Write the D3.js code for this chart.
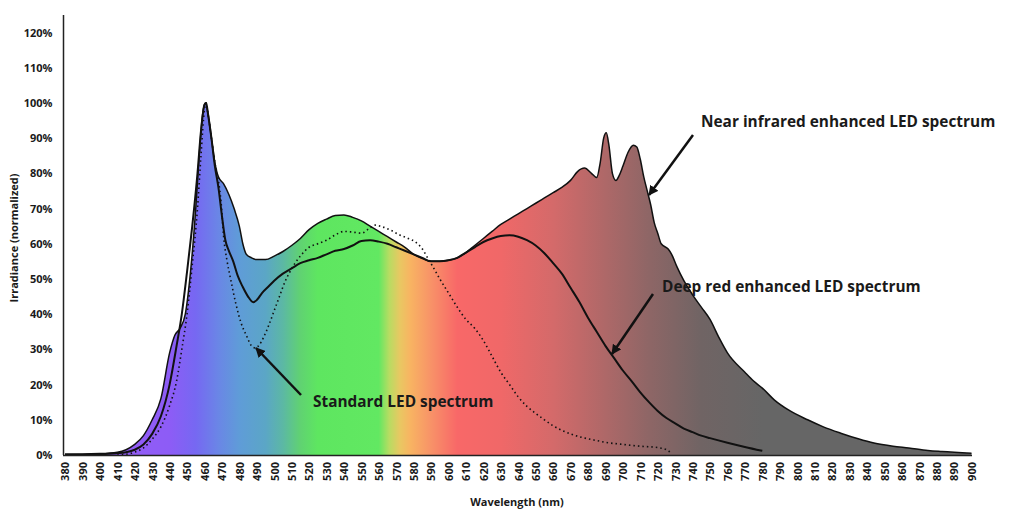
<!DOCTYPE html>
<html>
<head>
<meta charset="utf-8">
<script src="https://cdn.jsdelivr.net/npm/d3@7"></script>
<style>
  html, body { margin: 0; padding: 0; background: #fff; }
  svg { display: block; font-family: "Open Sans", "DejaVu Sans", sans-serif; }
</style>
</head>
<body>
<svg id="chart" width="1024" height="519"></svg>
<script>
// ---------- DATA ----------
const xTicks = d3.range(380, 901, 10);
const yTicks = [0, 10, 20, 30, 40, 50, 60, 70, 80, 90, 100, 110, 120];

// Near infrared enhanced LED spectrum (filled)
const nirWl  = [380,390,400,410,415,420,425,430,435,440,443,446,449,452,455,457,459,460.5,462,464,466,468,471,474,477,480,482,484,487,490,495,500,505,510,515,520,525,530,535,540,545,550,555,560,565,570,575,580,585,590,595,600,605,610,615,620,625,630,635,640,645,650,655,660,665,670,674,678,682,685,687,689,690.5,692,694,696,698,700,703,706,708,710,712,714,716,718,720,722,726,728,731,735,740,745,750,755,760,770,775,780,787,795,806,815,825,835,844,855,864,875,883,900];
const nirVal = [0.3,0.3,0.4,0.8,1.5,3,5.5,10,16,29,34,36,40,52,70,85,97,100,97,90,83,79,77,74,70,65,60,57,56,55.5,55.5,56.5,57.8,59.5,61.5,64,65.8,67,68,68.2,67.5,66.5,65,63.5,62,60.5,59,57,55.8,55,55,55.3,56,57.5,59.5,61.5,63.5,65.5,67,68.5,70,71.5,73,74.5,76,78,80.5,81.5,80,78.8,83,90,91.5,88,80,78,79.5,82,86,88,87.5,84,79,75,71,66,63,60,58.5,57,53.5,49.5,45.5,42,38.5,33.5,29,23.5,21,19,15.6,12.8,10,8,6.2,4.6,3.4,2.5,2,1.3,1,0.5];

// Deep red enhanced LED spectrum (solid line)
const deepWl  = [380,400,410,415,420,425,430,435,440,444,447,450,453,456,458,460,461,462,464,466,468,470,472,474,476.5,479,482,485,488,490,493,497,500,505,510,515,520,525,530,535,540,545,550,555,560,565,570,575,580,585,590,595,600,605,610,615,620,625,630,635,640,645,650,655,660,665,670,675,680,685,690,695,700,705,710,715,720,725,730,735,740,745,750,760,770,780];
const deepVal = [0,0.2,0.5,0.8,1.5,3,6,11,20,31,40,52,65,80,92,99.5,100,97,90,82,76,68,61,58,55,51,47.7,45,43.4,44,46,48,49.5,51.5,53,54.5,55.3,56,57,58,58.5,59.5,60.8,61,60.6,60,59,58,57,56,55,55,55.3,56,57.5,59,60.5,61.5,62.2,62.4,62,61,59.5,57.3,54.5,51.5,47.5,43.5,39,35,31,27.5,24,21,17.8,15,12.5,10.5,9,7.5,6.5,5.5,4.8,3.5,2.3,1.2];

// Standard LED spectrum (dotted line)
const stdWl  = [410,415,420,425,430,435,440,444,447,450,453,456,458,460,461,462,464,466,468,469.5,471,473,475,478,481,484,487,489,491,494,497,500,503,506,509,512,515,520,525,530,535,540,545,550,555,558,562,567,572,577,581,585,588,591,595,600,605,610,615,620,625,630,635,640,645,650,655,660,665,670,675,680,685,690,700,710,720,725,728];
const stdVal = [0,0.2,0.8,2,4.5,8,14,21,30,40,54,70,85,98,100,97,90,83,78,72,62,55,50,43,37.5,34,31,30.4,31,33.5,37,41,45,49,52,54.5,56.5,59,60,61,62.5,63.5,63.3,63,64.5,65.3,64.8,63.8,62.5,61.5,60.5,58.5,56,53.5,50,46,42,38.5,36,32.5,28,23.5,20,16.5,13.8,11.8,10,8.3,7,6,5.2,4.6,4.1,3.6,3,2.5,2.1,1.5,0.5];

// spectrum gradient (wavelength -> colour)
const gradNm     = [380,440,455,468,480,495,505,515,525,560,566,572,578,590,605,630,660,690,715,745,780,900];
const gradColors = ["#9b5cf6","#8d5cf6","#7668f2","#6a86e6","#5f9cd8","#5ba6c6","#5cb8a4","#60d272","#5ee660","#62e862","#b8dc62","#e8c862","#f8b462","#f89268","#f86868","#f06868","#d46a6a","#ae6868","#8e6666","#706464","#666666","#666666"];

// annotations
const labels = [
  {text: "Near infrared enhanced LED spectrum", tx: 701, ty: 127, ax1: 693, ay1: 135, ax2: 649, ay2: 195},
  {text: "Deep red enhanced LED spectrum",      tx: 662, ty: 292, ax1: 653, ay1: 294, ax2: 612, ay2: 354},
  {text: "Standard LED spectrum",               tx: 313, ty: 407, ax1: 301, ay1: 395, ax2: 256, ay2: 348}
];

// ---------- CHART ----------
const svg = d3.select("#chart");
const x = d3.scaleLinear().domain([380, 900]).range([65, 971.5]);
const y = d3.scaleLinear().domain([0, 120]).range([455, 32.5]);

const defs = svg.append("defs");
const grad = defs.append("linearGradient")
  .attr("id", "spec").attr("gradientUnits", "userSpaceOnUse")
  .attr("x1", x(380)).attr("x2", x(900)).attr("y1", 0).attr("y2", 0);
gradNm.forEach((nm, i) => {
  grad.append("stop").attr("offset", (nm - 380) / 520).attr("stop-color", gradColors[i]);
});

defs.append("marker").attr("id", "arrow")
  .attr("viewBox", "0 0 10 10").attr("refX", 9).attr("refY", 5)
  .attr("markerWidth", 4).attr("markerHeight", 4).attr("orient", "auto")
  .append("path").attr("d", "M0,0 L10,5 L0,10 z").attr("fill", "#111");

const zip = (a, b) => a.map((v, i) => [v, b[i]]);
const nir = zip(nirWl, nirVal), deep = zip(deepWl, deepVal), std = zip(stdWl, stdVal);

const area = d3.area().x(d => x(d[0])).y0(y(0)).y1(d => y(d[1])).curve(d3.curveMonotoneX);
const line = d3.line().x(d => x(d[0])).y(d => y(d[1])).curve(d3.curveMonotoneX);

svg.append("path").datum(nir).attr("d", area).attr("fill", "url(#spec)");
svg.append("path").datum(nir).attr("d", line).attr("fill", "none")
  .attr("stroke", "#111").attr("stroke-width", 1.5);
svg.append("path").datum(deep).attr("d", line).attr("fill", "none")
  .attr("stroke", "#111").attr("stroke-width", 2);
svg.append("path").datum(std).attr("d", line).attr("fill", "none")
  .attr("stroke", "#111").attr("stroke-width", 1.6).attr("stroke-dasharray", "1.5 3");

// axes
const xAxis = d3.axisBottom(x).tickValues(xTicks).tickSize(0).tickFormat(d3.format("d"));
const gx = svg.append("g").attr("transform", "translate(0,455)").call(xAxis);
gx.select(".domain").attr("d", `M63,0.5H972`).attr("stroke", "#222").attr("stroke-width", 1.5);
gx.selectAll("text")
  .attr("transform", "rotate(-90)")
  .attr("x", -7).attr("y", 0).attr("dy", "0.35em")
  .attr("text-anchor", "end")
  .attr("font-size", 11).attr("font-weight", "bold").attr("fill", "#1a1a1a")
  .attr("font-family", "Open Sans");

const yAxis = d3.axisLeft(y).tickValues(yTicks).tickSize(0).tickFormat(d => d + "%");
const gy = svg.append("g").attr("transform", "translate(63.5,0)").call(yAxis);
gy.select(".domain").attr("d", `M0,15V455`).attr("stroke", "#222").attr("stroke-width", 1.5);
gy.selectAll("text").attr("x", -11).attr("font-size", 11).attr("font-weight", "bold")
  .attr("fill", "#1a1a1a").attr("font-family", "Open Sans");

svg.append("text").attr("transform", "translate(18,238) rotate(-90)")
  .attr("text-anchor", "middle").attr("font-size", 11).attr("font-weight", "bold")
  .attr("fill", "#1a1a1a").text("Irradiance (normalized)");
svg.append("text").attr("x", 517).attr("y", 506)
  .attr("text-anchor", "middle").attr("font-size", 11).attr("font-weight", "bold")
  .attr("fill", "#1a1a1a").text("Wavelength (nm)");

// annotations
labels.forEach(l => {
  svg.append("line").attr("x1", l.ax1).attr("y1", l.ay1).attr("x2", l.ax2).attr("y2", l.ay2)
    .attr("stroke", "#111").attr("stroke-width", 2.5).attr("marker-end", "url(#arrow)");
  svg.append("text").attr("x", l.tx).attr("y", l.ty)
    .attr("font-size", 15.4).attr("font-weight", "bold").attr("fill", "#1a1a1a").text(l.text);
});
</script>
</body>
</html>
